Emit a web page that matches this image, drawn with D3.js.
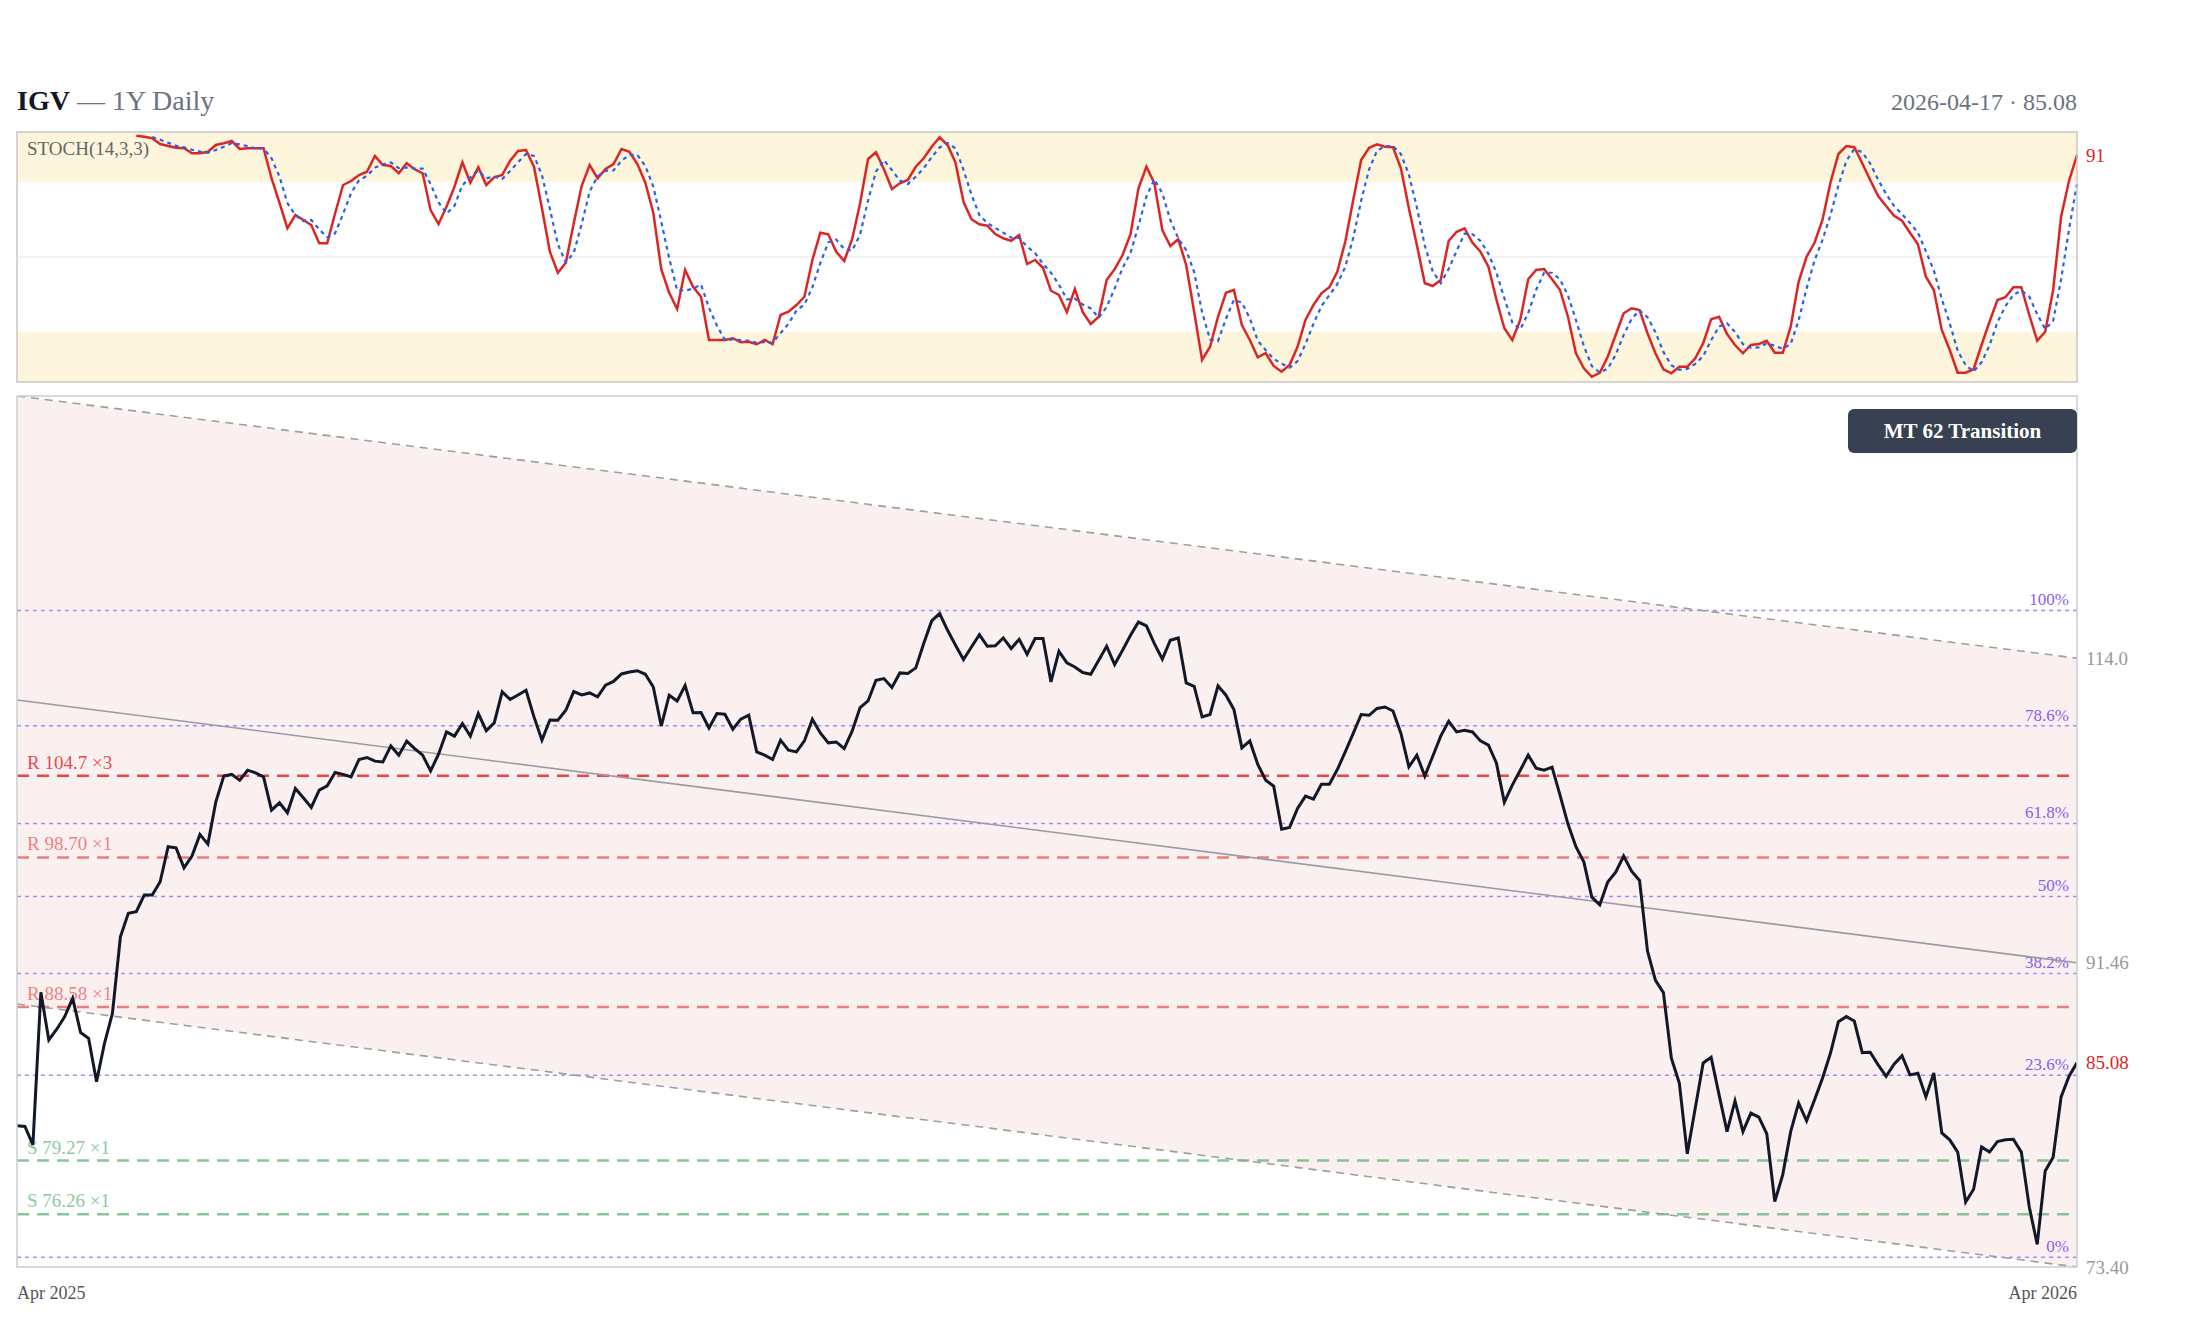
<!DOCTYPE html>
<html>
<head>
<meta charset="utf-8">
<script src="https://cdn.jsdelivr.net/npm/d3@7"></script>
<style>
  html, body { margin: 0; padding: 0; background: #fff; }
  svg { display: block; font-family: "Liberation Serif", "Times New Roman", serif; }
</style>
</head>
<body>
<svg id="chart" width="2200" height="1320"></svg>
<script>
// ---- data ----
const ticker = "IGV";
const subtitle = "1Y Daily";
const lastDate = "2026-04-17";
const xTickLabels = ["Apr 2025", "Apr 2026"];

// daily closes, oldest first
const closes = [
  81.29, 81.25, 80.18, 89.53, 86.50, 87.17, 87.97, 89.14, 86.96, 86.60,
  83.93, 86.29, 88.18, 93.20, 94.79, 94.90, 96.05, 96.05, 96.98, 99.47,
  99.39, 97.97, 98.80, 100.36, 99.66, 102.75, 104.68, 104.81, 104.37, 105.13,
  104.93, 104.62, 102.14, 102.68, 101.94, 103.75, 103.05, 102.34, 103.62, 103.95,
  104.96, 104.81, 104.62, 105.95, 106.10, 105.82, 105.76, 106.99, 106.28, 107.36,
  106.79, 106.28, 105.08, 106.35, 108.08, 107.75, 108.74, 107.75, 109.53, 108.18,
  108.79, 111.25, 110.65, 111.01, 111.39, 109.26, 107.44, 109.02, 109.00, 109.79,
  111.28, 111.01, 111.17, 110.85, 111.79, 112.10, 112.71, 112.86, 112.97, 112.68,
  111.65, 108.54, 110.99, 110.53, 111.77, 109.59, 109.61, 108.39, 109.53, 109.47,
  108.29, 109.08, 109.39, 106.53, 106.28, 105.95, 107.44, 106.66, 106.53, 107.38,
  109.08, 108.00, 107.23, 107.30, 106.79, 108.14, 110.00, 110.53, 112.20, 112.33,
  111.61, 112.79, 112.74, 113.20, 115.21, 117.11, 117.74, 116.32, 115.07, 113.89,
  114.93, 115.96, 114.99, 115.02, 115.68, 114.80, 115.57, 114.32, 115.63, 115.63,
  112.06, 114.57, 113.61, 113.28, 112.82, 112.68, 113.83, 114.99, 113.48, 114.65,
  115.90, 117.02, 116.69, 115.21, 113.91, 115.49, 115.68, 111.98, 111.71, 109.26,
  109.45, 111.74, 110.99, 109.85, 106.84, 107.38, 105.57, 104.37, 103.92, 100.74,
  100.87, 102.26, 103.18, 102.95, 104.07, 104.07, 105.18, 106.53, 107.96, 109.45,
  109.39, 109.93, 110.05, 109.73, 107.96, 105.38, 106.28, 104.68, 106.20, 107.75,
  108.92, 108.08, 108.21, 108.08, 107.38, 107.05, 105.69, 102.73, 104.00, 105.13,
  106.28, 105.28, 105.13, 105.36, 103.25, 101.11, 99.47, 98.37, 95.91, 95.38,
  96.96, 97.65, 98.80, 97.73, 97.07, 92.24, 90.31, 89.51, 85.36, 83.84,
  79.66, 82.33, 85.07, 85.42, 83.13, 80.95, 82.77, 80.95, 82.04, 81.80,
  80.82, 76.96, 78.46, 80.95, 82.63, 81.58, 82.83, 84.14, 85.67, 87.65,
  87.97, 87.69, 85.71, 85.73, 84.95, 84.25, 84.99, 85.52, 84.34, 84.44,
  83.01, 84.46, 80.87, 80.47, 79.76, 76.93, 77.65, 80.06, 79.76, 80.37,
  80.47, 80.50, 79.76, 76.65, 74.61, 78.68, 79.46, 83.01, 84.26, 85.08
];

// stochastic %K (14,3), first value sits on bar 15
const stochStart = 15;
const stochK = [
  98.5, 98.1, 97.5, 95.2, 94.4, 93.7, 93.5, 91.5, 91.5, 92.1,
  94.8, 95.5, 96.4, 93.2, 93.5, 93.5, 93.5, 81.5, 71.7, 61.5,
  66.8, 64.8, 62.8, 55.5, 55.5, 67.5, 78.8, 80.4, 82.8, 84.1,
  90.4, 86.8, 86.4, 83.5, 87.5, 85.1, 83.5, 68.8, 63.2, 70.1,
  78.1, 87.9, 79.7, 85.9, 78.8, 81.9, 82.8, 88.5, 92.4, 92.8,
  86.1, 69.5, 52.1, 43.7, 47.7, 63.5, 78.5, 86.8, 81.5, 85.2,
  87.2, 93.2, 92.1, 87.2, 79.7, 67.7, 45.1, 35.7, 29.2, 44.8,
  38.1, 34.1, 16.8, 16.8, 16.8, 17.5, 15.9, 16.1, 15.1, 16.8,
  15.1, 26.8, 28.1, 30.8, 34.1, 48.8, 59.7, 59.1, 52.1, 48.4,
  57.1, 71.5, 89.2, 91.9, 85.1, 77.2, 79.5, 80.8, 86.1, 89.5,
  94.1, 97.9, 94.8, 87.7, 72.1, 65.1, 63.1, 62.5, 59.2, 57.5,
  56.5, 58.8, 47.2, 48.8, 45.7, 36.5, 34.8, 27.9, 37.2, 27.9,
  23.2, 26.1, 40.8, 45.1, 50.8, 59.1, 77.5, 86.1, 79.5, 60.8,
  54.4, 57.1, 46.8, 28.1, 8.8, 14.1, 26.1, 35.7, 36.8, 22.8,
  16.8, 9.9, 11.5, 6.4, 4.1, 6.8, 14.1, 24.8, 30.8, 35.5,
  37.9, 44.1, 56.1, 72.8, 88.8, 93.7, 95.1, 94.1, 93.9, 85.5,
  69.5, 54.8, 39.5, 38.4, 40.8, 56.4, 60.1, 61.5, 55.7, 52.1,
  46.1, 33.0, 21.5, 16.8, 24.8, 41.1, 44.8, 45.2, 41.1, 36.8,
  26.1, 11.5, 5.5, 2.1, 3.7, 10.1, 18.8, 27.5, 29.5, 28.8,
  19.5, 11.5, 5.1, 3.5, 6.1, 6.1, 9.5, 15.5, 25.1, 26.1,
  19.2, 14.8, 11.5, 14.8, 15.2, 16.5, 11.7, 11.7, 22.1, 40.1,
  50.1, 55.7, 64.8, 79.7, 91.2, 94.4, 93.9, 87.5, 80.8, 74.4,
  70.4, 66.5, 64.5, 59.7, 55.1, 42.1, 36.8, 20.8, 12.8, 3.7,
  3.7, 5.1, 14.8, 24.1, 32.8, 33.9, 37.9, 37.9, 26.8, 16.5,
  20.1, 36.8, 66.1, 80.5, 90.8
];
const stochBands = [20, 50, 80];

// regression channel, [first bar, last bar]
const channelUpper = [137.8, 114.0];
const channelMid = [110.6, 91.46];
const channelLower = [88.78, 73.40];

// fibonacci retracement
const fibLow = 73.92;
const fibHigh = 118.0;
const fibLevels = [0, 0.236, 0.382, 0.5, 0.618, 0.786, 1];

// support / resistance with touch counts
const resLevels = [104.7, 98.70, 88.58];
const resTouches = [3, 1, 1];
const supLevels = [79.27, 76.26];
const supTouches = [1, 1];

const regimeLabel = "MT 62 Transition";

// ---- layout ----
const left = 17, right = 2077;
const stochTop = 132, stochBottom = 382;
const mainTop = 396, mainBottom = 1267;
const n = closes.length;

const svg = d3.select("#chart");
const fmt = v => v >= 100 ? v.toFixed(1) : v.toFixed(2);

const x = d3.scaleLinear().domain([0, n - 1]).range([left, right]);
const ys = d3.scaleLinear().domain([0, 100]).range([stochBottom, stochTop]);
const y = d3.scaleLog()
  .domain([d3.min(channelLower), d3.max(channelUpper)])
  .range([mainBottom, mainTop]);

// header
const title = svg.append("text").attr("x", left).attr("y", 110)
  .attr("font-size", 28).attr("fill", "#6b7280");
title.append("tspan").attr("font-weight", "bold").attr("fill", "#111827").text(ticker);
title.append("tspan").text(" \u2014 " + subtitle);

svg.append("text").attr("x", right).attr("y", 110)
  .attr("text-anchor", "end").attr("font-size", 24).attr("fill", "#6b7280")
  .text(lastDate + " \u00b7 " + closes[n - 1].toFixed(2));

// ---- stochastic panel ----
const stoch = svg.append("g");
stoch.append("rect").attr("x", left).attr("y", ys(100))
  .attr("width", right - left).attr("height", ys(stochBands[2]) - ys(100))
  .attr("fill", "#fdf6dc");
stoch.append("rect").attr("x", left).attr("y", ys(stochBands[0]))
  .attr("width", right - left).attr("height", ys(0) - ys(stochBands[0]))
  .attr("fill", "#fdf6dc");
stoch.append("line").attr("x1", left).attr("x2", right)
  .attr("y1", ys(stochBands[1])).attr("y2", ys(stochBands[1]))
  .attr("stroke", "#eeeeee").attr("stroke-width", 1.5);

const kData = stochK.map((v, i) => ({ i: i + stochStart, v: v }));
// %D is the 3-bar average of %K
const dData = kData.slice(2).map((d, j) => ({ i: d.i, v: d3.mean(stochK.slice(j, j + 3)) }));
const sline = d3.line().x(d => x(d.i)).y(d => ys(d.v));

stoch.append("path").datum(kData).attr("d", sline)
  .attr("fill", "none").attr("stroke", "#dc2626").attr("stroke-width", 2.5);
stoch.append("path").datum(dData).attr("d", sline)
  .attr("fill", "none").attr("stroke", "#2563eb").attr("stroke-width", 2.2)
  .attr("stroke-dasharray", "4,4");

stoch.append("rect").attr("x", left).attr("y", stochTop)
  .attr("width", right - left).attr("height", stochBottom - stochTop)
  .attr("fill", "none").attr("stroke", "#c8c8c8").attr("stroke-width", 1.5);
stoch.append("text").attr("x", left + 10).attr("y", stochTop + 23)
  .attr("font-size", 19).attr("fill", "#666").text("STOCH(14,3,3)");
stoch.append("text").attr("x", right + 9).attr("y", ys(stochK[stochK.length - 1]))
  .attr("dy", "0.35em").attr("font-size", 19).attr("fill", "#dc2626")
  .text(Math.round(stochK[stochK.length - 1]));

// ---- main price panel ----
svg.append("clipPath").attr("id", "mainClip").append("rect")
  .attr("x", left).attr("y", mainTop).attr("width", right - left).attr("height", mainBottom - mainTop);
const main = svg.append("g").attr("clip-path", "url(#mainClip)");

// channel band
const ends = [0, n - 1];
const band = ends.map((i, k) => [x(i), y(channelUpper[k])])
  .concat(ends.slice().reverse().map((i, k) => [x(i), y(channelLower[1 - k])]));
main.append("path").attr("d", "M" + band.join("L") + "Z").attr("fill", "#fbf0f0");

// fibonacci lines
fibLevels.forEach(f => {
  const p = fibLow + f * (fibHigh - fibLow);
  main.append("line").attr("x1", left).attr("x2", right).attr("y1", y(p)).attr("y2", y(p))
    .attr("stroke", "#a78bfa").attr("stroke-width", 1.5).attr("stroke-dasharray", "4,4");
  main.append("text").attr("x", right - 8).attr("y", y(p) - 5)
    .attr("text-anchor", "end").attr("font-size", 17).attr("fill", "#8b5cf6")
    .text((Math.round(f * 1000) / 10) + "%");
});

// support / resistance
function level(p, touches, kind) {
  const col = kind === "R" ? "#e53e3e" : "#48a868";
  const op = touches >= 3 ? 0.95 : 0.65;
  main.append("line").attr("x1", left).attr("x2", right).attr("y1", y(p)).attr("y2", y(p))
    .attr("stroke", col).attr("stroke-opacity", op).attr("stroke-width", 2.5)
    .attr("stroke-dasharray", "12,8");
  main.append("text").attr("x", left + 10).attr("y", y(p) - 7)
    .attr("font-size", 19).attr("fill", col).attr("fill-opacity", op)
    .text(kind + " " + fmt(p) + " \u00d7" + touches);
}
resLevels.forEach((p, k) => level(p, resTouches[k], "R"));
supLevels.forEach((p, k) => level(p, supTouches[k], "S"));

// channel lines
const cline = d3.line().x(d => x(d[0])).y(d => y(d[1]));
[[channelUpper, "8,6"], [channelLower, "8,6"], [channelMid, null]].forEach(c => {
  main.append("path").datum(ends.map((i, k) => [i, c[0][k]])).attr("d", cline)
    .attr("fill", "none").attr("stroke", c[1] ? "#9e9e9e" : "#9a9aa6")
    .attr("stroke-width", 1.6).attr("stroke-dasharray", c[1]);
});

// price
main.append("path").datum(closes)
  .attr("d", d3.line().x((d, i) => x(i)).y(d => y(d)))
  .attr("fill", "none").attr("stroke", "#111827").attr("stroke-width", 3);

svg.append("rect").attr("x", left).attr("y", mainTop)
  .attr("width", right - left).attr("height", mainBottom - mainTop)
  .attr("fill", "none").attr("stroke", "#c9ced6").attr("stroke-width", 1.5);

// right-hand value labels
[[channelUpper[1], "#999"], [channelMid[1], "#999"], [channelLower[1], "#999"], [closes[n - 1], "#dc2626"]]
  .forEach(l => {
    svg.append("text").attr("x", right + 9).attr("y", y(l[0])).attr("dy", "0.35em")
      .attr("font-size", 19).attr("fill", l[1]).text(fmt(l[0]));
  });

// regime badge
const badge = svg.append("g").attr("transform", "translate(" + (right - 229) + "," + (mainTop + 13) + ")");
badge.append("rect").attr("width", 229).attr("height", 44).attr("rx", 6).attr("fill", "#374151");
badge.append("text").attr("x", 114.5).attr("y", 22).attr("dy", "0.35em")
  .attr("text-anchor", "middle").attr("font-size", 21).attr("font-weight", "bold")
  .attr("fill", "#fff").text(regimeLabel);

// x labels
svg.append("text").attr("x", left).attr("y", 1299).attr("font-size", 18).attr("fill", "#555")
  .text(xTickLabels[0]);
svg.append("text").attr("x", right).attr("y", 1299).attr("text-anchor", "end")
  .attr("font-size", 18).attr("fill", "#555").text(xTickLabels[1]);
</script>
</body>
</html>
